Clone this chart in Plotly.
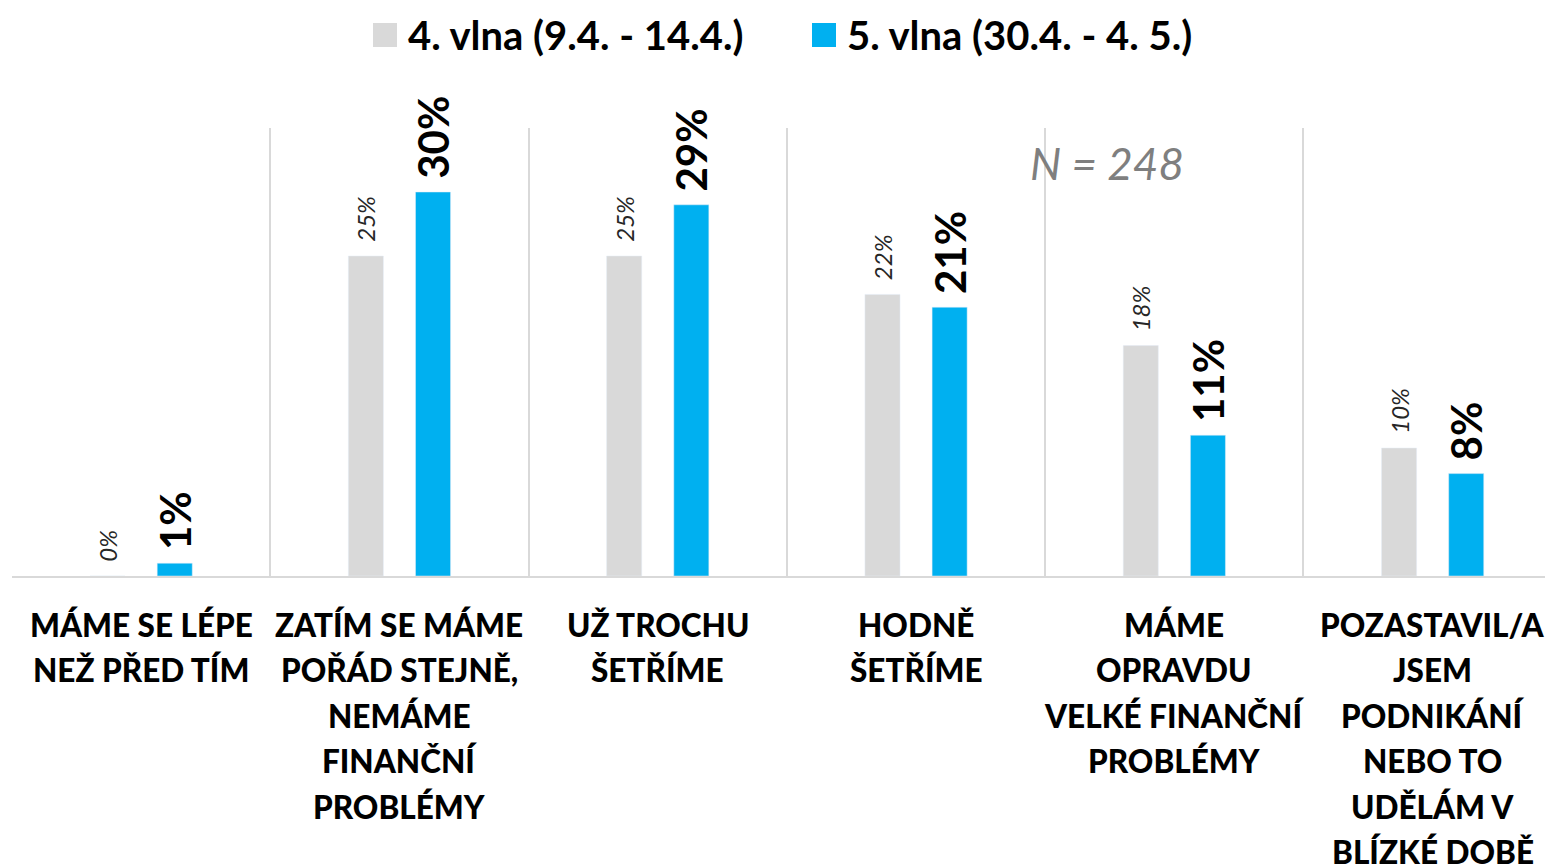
import plotly.graph_objects as go

categories = [
    "MÁME SE LÉPE<br>NEŽ PŘED TÍM",
    "ZATÍM SE MÁME<br>POŘÁD STEJNĚ,<br>NEMÁME<br>FINANČNÍ<br>PROBLÉMY",
    "UŽ TROCHU<br>ŠETŘÍME",
    "HODNĚ<br>ŠETŘÍME",
    "MÁME<br>OPRAVDU<br>VELKÉ FINANČNÍ<br>PROBLÉMY",
    "POZASTAVIL/A<br>JSEM<br>PODNIKÁNÍ<br>NEBO TO<br>UDĚLÁM V<br>BLÍZKÉ DOBĚ",
]
series_names = ["4. vlna (9.4. - 14.4.)", "5. vlna (30.4. - 4. 5.)"]
wave4 = [0, 25, 25, 22, 18, 10]
wave5 = [1, 30, 29, 21, 11, 8]
note_text = "N = 248"

GRAY = "#d9d9d9"
BLUE = "#00b0f0"
FONT = "Lato"
colors = [GRAY, BLUE]

# plot-area geometry (pixels) used for placing legend items in paper coords
PL, PW, PB, PH = 12, 1533, 576, 448


def px(x):
    return (x - PL) / PW


def py(y):
    return (PB - y) / PH


fig = go.Figure()
fig.add_trace(go.Bar(
    x=categories, y=wave4, name=series_names[0], marker_color=GRAY,
    text=[f"\u00a0\u00a0{v}%" for v in wave4], textposition="outside", textangle=-90,
    textfont=dict(family=FONT, size=24, color="#262626", style="italic"),
    constraintext="none", cliponaxis=False, showlegend=False,
))
fig.add_trace(go.Bar(
    x=categories, y=wave5, name=series_names[1], marker_color=BLUE,
    text=[f"\u00a0{v}%" for v in wave5], textposition="outside", textangle=-90,
    textfont=dict(family=FONT, size=42, color="#000000", weight="bold"),
    constraintext="none", cliponaxis=False, showlegend=False,
))

# legend (large square keys)
legend_keys_x = [373, 812]
for name, col, kx in zip(series_names, colors, legend_keys_x):
    fig.add_shape(type="rect", xref="paper", yref="paper",
                  x0=px(kx), x1=px(kx + 24), y0=py(47), y1=py(23),
                  fillcolor=col, line_width=0)
    fig.add_annotation(x=px(kx + 33), y=py(35), xref="paper", yref="paper", text=name,
                       showarrow=False, xanchor="left", yanchor="middle",
                       font=dict(family=FONT, size=40, color="#000000", weight="bold"))

# category labels, one annotation per line
for i, cat in enumerate(categories):
    for j, line in enumerate(cat.split("<br>")):
        fig.add_annotation(
            x=i, y=0, xref="x", yref="y", text=line, showarrow=False,
            xanchor="center", yanchor="middle", yshift=-(49 + 45.4 * j),
            font=dict(family=FONT, size=31.5, color="#000000", weight=900),
        )

fig.add_annotation(
    x=px(1107), y=py(163), xref="paper", yref="paper", text=note_text, showarrow=False,
    xanchor="center", yanchor="middle",
    font=dict(family=FONT, size=44, color="#7f7f7f", style="italic"),
)

fig.update_layout(
    width=1545, height=866,
    margin=dict(l=PL, r=0, t=128, b=290),
    paper_bgcolor="white", plot_bgcolor="white",
    barmode="group", bargap=0.48, bargroupgap=0.478,
    showlegend=False,
    xaxis=dict(type="category", range=[-0.5, 5.435], tickson="boundaries", showgrid=True,
               gridcolor=GRAY, gridwidth=2, showticklabels=False, ticks="", showline=True,
               linecolor=GRAY, linewidth=2, zeroline=False),
    yaxis=dict(range=[0, 35], visible=False, showgrid=False, zeroline=False),
)
fig.write_html(
    "out.html",
    config={"displayModeBar": False},
    post_script="document.body.style.margin='0';document.body.style.overflow='hidden';",
)
